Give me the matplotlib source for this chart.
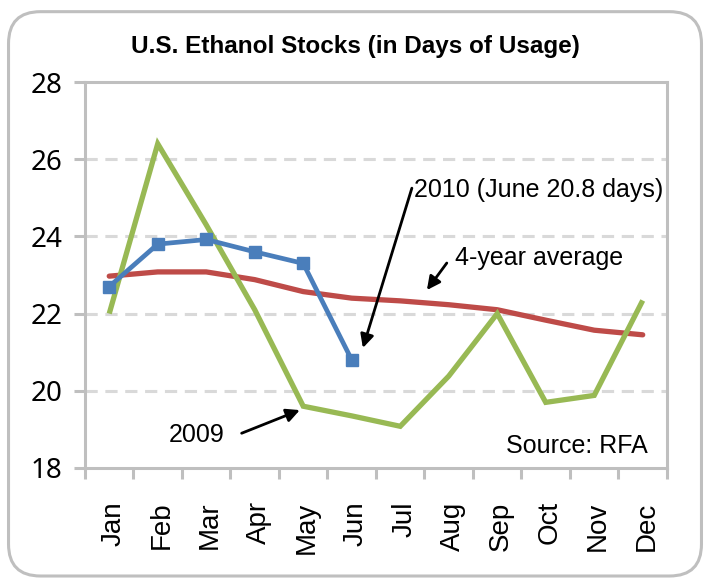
import matplotlib
matplotlib.use("Agg")
import matplotlib.pyplot as plt
import matplotlib.transforms as mtransforms
from matplotlib.patches import FancyBboxPatch

months = ["Jan", "Feb", "Mar", "Apr", "May", "Jun", "Jul", "Aug", "Sep", "Oct", "Nov", "Dec"]
stocks_2009 = [22.0, 26.4, 24.3, 22.1, 19.6, 19.35, 19.08, 20.38, 22.0, 19.7, 19.88, 22.34]
stocks_2010 = [22.7, 23.8, 23.92, 23.6, 23.3, 20.8]
avg_4yr = [22.97, 23.08, 23.08, 22.88, 22.57, 22.4, 22.33, 22.23, 22.1, 21.83, 21.57, 21.45]
y_ticks = [18, 20, 22, 24, 26, 28]

GRAY = "#bfbfbf"
GRID = "#d9d9d9"
FONT = "Liberation Sans"

fig = plt.figure(figsize=(7.10, 5.83), dpi=100)
ax = fig.add_axes([0.1197, 0.1973, 0.8197, 0.662])

# rounded outer frame
frame = FancyBboxPatch((0.012, 0.012), 0.976, 0.968, boxstyle="round,pad=0,rounding_size=0.045",
                       transform=fig.transFigure, fill=False, edgecolor=GRAY, linewidth=2.2,
                       mutation_aspect=710 / 583)
fig.patches.append(frame)

x = list(range(len(months)))
ax.plot(x, avg_4yr, color="#be4b48", lw=3.8, solid_capstyle="round", solid_joinstyle="round", zorder=3)
ax.plot(x, stocks_2009, color="#98b954", lw=3.8, solid_capstyle="butt", solid_joinstyle="miter", zorder=4)
ax.plot(x[:len(stocks_2010)], stocks_2010, color="#4a7ebb", lw=3.4, marker="s", markersize=8,
        solid_joinstyle="round", zorder=5)

ax.set_xlim(-0.5, 11.5)
ax.set_ylim(18, 28)
ax.set_yticks(y_ticks)
ax.set_yticklabels([str(v) for v in y_ticks], fontsize=20, family="Noto Sans")
ax.set_xticks([i - 0.5 for i in range(13)])
ax.set_xticklabels([])
ax.set_xticks(x, minor=True)
ax.set_xticklabels(months, minor=True, rotation=90, fontsize=20, family=FONT)
ax.tick_params(axis="x", which="minor", length=0, pad=24)
ax.tick_params(axis="x", which="major", length=8, width=2.2, color=GRAY, direction="out")
ax.tick_params(axis="y", length=8, width=2.2, color=GRAY, direction="out", pad=8)

# month labels sit a bit right of the category centre
shift = mtransforms.ScaledTranslation(4 / 100, 0, fig.dpi_scale_trans)
for lbl in ax.get_xticklabels(minor=True):
    lbl.set_transform(lbl.get_transform() + shift)

for spine in ax.spines.values():
    spine.set_color(GRAY)
    spine.set_linewidth(2.2)

for v in y_ticks[1:-1]:
    ax.axhline(v, color=GRID, lw=2.2, ls=(0, (4, 2.5)), zorder=1)

fig.text(0.5, 0.921, "U.S. Ethanol Stocks (in Days of Usage)", ha="center", va="center",
         fontsize=17.5, fontweight="bold", family=["Liberation Sans Narrow", FONT])

arrow = dict(arrowstyle="-|>", color="black", lw=2, mutation_scale=20, shrinkA=0, shrinkB=0)
ax.annotate("", xy=(5.23, 21.11), xytext=(6.24, 25.25), arrowprops=arrow, zorder=6)
ax.text(6.28, 25.2, "2010 (June 20.8 days)", ha="left", va="center", fontsize=18, family=FONT)
ax.annotate("", xy=(6.55, 22.61), xytext=(6.96, 23.31), arrowprops=arrow, zorder=6)
ax.text(7.13, 23.44, "4-year average", ha="left", va="center", fontsize=18, family=FONT)
ax.annotate("", xy=(3.93, 19.5), xytext=(2.73, 18.9), arrowprops=arrow, zorder=6)
ax.text(1.23, 18.85, "2009", ha="left", va="center", fontsize=18, family=FONT)
ax.text(11.11, 18.57, "Source: RFA", ha="right", va="center", fontsize=18, family=FONT)

fig.savefig("out.png", dpi=100)
